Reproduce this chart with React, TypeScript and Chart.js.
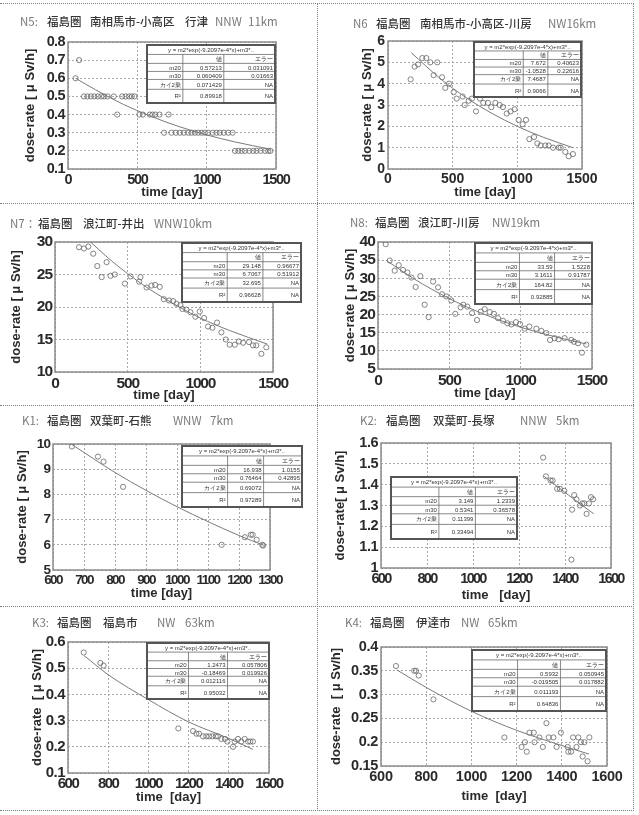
import React, { useEffect, useRef } from 'react';
import { Chart, registerables } from 'chart.js';
Chart.register(...registerables);

// ---------------- DATA ----------------
// N5
const n5Days = [55, 80, 115, 140, 165, 190, 215, 240, 260, 285, 330, 355, 390, 415, 440, 460, 480, 515, 540, 590, 610, 630, 660, 693, 725, 746, 778, 807, 836, 867, 891, 915, 939, 963, 987, 1011, 1043, 1071, 1095, 1124, 1156, 1187, 1204, 1228, 1252, 1276, 1307, 1336, 1360, 1389, 1421, 1445, 1460];
const n5Dose = [0.6, 0.7, 0.5, 0.5, 0.5, 0.5, 0.5, 0.5, 0.5, 0.5, 0.5, 0.4, 0.5, 0.5, 0.5, 0.5, 0.5, 0.4, 0.4, 0.4, 0.4, 0.4, 0.4, 0.3, 0.4, 0.3, 0.3, 0.3, 0.3, 0.3, 0.3, 0.3, 0.3, 0.3, 0.3, 0.3, 0.3, 0.3, 0.3, 0.3, 0.3, 0.3, 0.2, 0.2, 0.2, 0.2, 0.2, 0.2, 0.2, 0.2, 0.2, 0.2, 0.2];
const n5FitDays = [55, 200, 400, 600, 800, 1000, 1200, 1460];
const n5FitDose = [0.60, 0.536, 0.456, 0.39, 0.334, 0.288, 0.25, 0.209];
const n5XTicks = [0, 500, 1000, 1500];
const n5YTicks = [0.1, 0.2, 0.3, 0.4, 0.5, 0.6, 0.7, 0.8];
const n5Vals = ['0.57213', '0.060409', '0.071429', '0.89918'];
const n5Errs = ['0.031091', '0.01663', 'NA', 'NA'];

// N6
const n6Days = [175, 206, 232, 265, 296, 327, 353, 381, 418, 443, 472, 508, 531, 577, 593, 624, 649, 680, 711, 737, 773, 799, 830, 863, 889, 918, 948, 979, 1010, 1041, 1067, 1093, 1129, 1155, 1180, 1216, 1242, 1276, 1320, 1335, 1371, 1397, 1430];
const n6Dose = [4.2, 4.8, 4.9, 5.2, 5.2, 5.0, 4.4, 5.0, 4.3, 3.8, 4.0, 3.6, 3.3, 3.4, 3.0, 3.2, 3.3, 2.7, 3.3, 3.1, 3.1, 2.9, 3.1, 3.0, 2.9, 2.6, 2.7, 2.8, 2.3, 2.1, 2.3, 1.4, 1.5, 1.2, 1.1, 1.1, 1.1, 1.0, 1.0, 1.0, 0.8, 0.6, 0.7];
const n6FitDays = [180, 400, 600, 800, 1000, 1200, 1430];
const n6FitDose = [5.45, 4.26, 3.36, 2.62, 2.0, 1.49, 1.0];
const n6XTicks = [0, 500, 1000, 1500];
const n6YTicks = [0, 1, 2, 3, 4, 5, 6];
const n6Vals = ['7.672', '-1.0528', '7.4687', '0.9066'];
const n6Errs = ['0.40623', '0.22616', 'NA', 'NA'];

// N7
const n7Days = [165, 199, 229, 263, 291, 321, 355, 382, 412, 481, 520, 579, 588, 630, 664, 689, 721, 749, 785, 813, 836, 863, 877, 904, 932, 966, 996, 1026, 1053, 1083, 1115, 1145, 1175, 1202, 1237, 1266, 1294, 1335, 1363, 1385, 1420, 1454];
const n7Dose = [29.2, 29.0, 29.3, 28.2, 26.3, 24.6, 26.9, 24.8, 25.0, 23.6, 24.7, 23.9, 24.6, 23.0, 23.3, 23.4, 23.1, 21.2, 21.0, 20.9, 20.5, 20.3, 19.7, 19.6, 19.2, 18.5, 19.3, 18.3, 17.0, 16.8, 17.6, 16.1, 15.0, 14.2, 14.2, 14.7, 14.5, 14.6, 14.1, 14.1, 12.8, 13.8];
const n7FitDays = [200, 400, 600, 800, 1000, 1200, 1460];
const n7FitDose = [30.9, 26.9, 23.5, 20.7, 18.3, 16.4, 14.3];
const n7XTicks = [0, 500, 1000, 1500];
const n7YTicks = [10, 15, 20, 25, 30];
const n7Vals = ['29.148', '6.7067', '32.695', '0.96628'];
const n7Errs = ['0.96677', '0.51912', 'NA', 'NA'];

// N8
const n8Days = [54, 82, 117, 145, 175, 206, 234, 264, 297, 327, 355, 386, 421, 449, 479, 514, 542, 579, 598, 626, 659, 694, 720, 748, 783, 813, 841, 876, 907, 935, 967, 995, 1028, 1061, 1110, 1145, 1180, 1206, 1238, 1266, 1308, 1355, 1374, 1402, 1430, 1460];
const n8Dose = [39.4, 34.9, 32.1, 33.6, 32.3, 31.6, 30.2, 27.6, 30.6, 22.7, 19.3, 29.1, 27.5, 25.6, 25.0, 23.9, 20.2, 22.0, 22.7, 22.2, 20.4, 18.5, 20.8, 21.5, 20.7, 20.2, 19.0, 18.3, 17.6, 17.3, 17.9, 17.4, 16.1, 16.7, 16.1, 15.5, 14.9, 13.0, 13.5, 13.2, 13.5, 13.0, 12.5, 12.1, 9.5, 11.7];
const n8FitDays = [60, 250, 500, 750, 1000, 1250, 1460];
const n8FitDose = [34.9, 29.9, 24.4, 20.0, 16.5, 13.8, 11.9];
const n8XTicks = [0, 500, 1000, 1500];
const n8YTicks = [5, 10, 15, 20, 25, 30, 35, 40];
const n8Vals = ['33.59', '3.1611', '164.82', '0.92885'];
const n8Errs = ['1.5228', '0.91787', 'NA', 'NA'];

// K1
const k1Days = [661, 745, 763, 826, 1144, 1219, 1238, 1244, 1257, 1275, 1278];
const k1Dose = [9.9, 9.5, 9.3, 8.3, 6.0, 6.3, 6.4, 6.4, 6.2, 6.0, 5.97];
const k1FitDays = [661, 800, 900, 1000, 1100, 1200, 1280];
const k1FitDose = [9.98, 8.87, 8.16, 7.51, 6.92, 6.37, 5.98];
const k1XTicks = [600, 700, 800, 900, 1000, 1100, 1200, 1300];
const k1YTicks = [5, 6, 7, 8, 9, 10];
const k1Vals = ['16.938', '0.76464', '0.69072', '0.97289'];
const k1Errs = ['1.0155', '0.42895', 'NA', 'NA'];

// K2
const k2Days = [1305, 1317, 1337, 1346, 1366, 1378, 1397, 1428, 1431, 1440, 1450, 1465, 1475, 1484, 1494, 1504, 1513, 1522];
const k2Dose = [1.53, 1.44, 1.42, 1.42, 1.38, 1.38, 1.37, 1.04, 1.28, 1.35, 1.33, 1.30, 1.31, 1.31, 1.26, 1.31, 1.34, 1.33];
const k2FitDays = [1310, 1415, 1525];
const k2FitDose = [1.44, 1.35, 1.26];
const k2XTicks = [600, 800, 1000, 1200, 1400, 1600];
const k2YTicks = [1, 1.1, 1.2, 1.3, 1.4, 1.5, 1.6];
const k2Vals = ['3.149', '0.5341', '0.11399', '0.33494'];
const k2Errs = ['1.2339', '0.36578', 'NA', 'NA'];

// K3
const k3Days = [678, 761, 777, 1149, 1222, 1239, 1252, 1272, 1288, 1302, 1318, 1335, 1346, 1363, 1381, 1393, 1421, 1429, 1446, 1462, 1479, 1496, 1507, 1520];
const k3Dose = [0.56, 0.52, 0.51, 0.27, 0.26, 0.25, 0.25, 0.24, 0.24, 0.24, 0.24, 0.24, 0.24, 0.23, 0.23, 0.22, 0.20, 0.22, 0.23, 0.22, 0.23, 0.22, 0.22, 0.22];
const k3FitDays = [680, 800, 1000, 1200, 1400, 1520];
const k3FitDose = [0.548, 0.475, 0.38, 0.295, 0.232, 0.19];
const k3XTicks = [600, 800, 1000, 1200, 1400, 1600];
const k3YTicks = [0.1, 0.2, 0.3, 0.4, 0.5, 0.6];
const k3Vals = ['1.2473', '-0.18469', '0.012116', '0.95032'];
const k3Errs = ['0.057806', '0.019926', 'NA', 'NA'];

// K4
const k4Days = [666, 747, 755, 767, 832, 1146, 1222, 1237, 1245, 1257, 1276, 1279, 1301, 1316, 1332, 1342, 1363, 1377, 1396, 1426, 1429, 1441, 1450, 1465, 1473, 1485, 1492, 1500, 1514, 1522];
const k4Dose = [0.36, 0.35, 0.35, 0.34, 0.29, 0.21, 0.19, 0.20, 0.18, 0.22, 0.22, 0.20, 0.21, 0.19, 0.24, 0.21, 0.21, 0.19, 0.22, 0.19, 0.18, 0.18, 0.21, 0.19, 0.21, 0.20, 0.17, 0.20, 0.16, 0.21];
const k4FitDays = [670, 800, 1000, 1200, 1400, 1520];
const k4FitDose = [0.352, 0.315, 0.265, 0.225, 0.193, 0.175];
const k4XTicks = [600, 800, 1000, 1200, 1400, 1600];
const k4YTicks = [0.15, 0.2, 0.25, 0.3, 0.35, 0.4];
const k4Vals = ['0.5932', '-0.019505', '0.011193', '0.64836'];
const k4Errs = ['0.050945', '0.017882', 'NA', 'NA'];

const rowLabels = ['m20', 'm30', 'カイ2乗', 'R²'];
const formulaText = 'y = m2*exp(-9.2097e-4*x)+m3*..';

// ---------------- LAYOUT ----------------
const REG = '"Liberation Sans", Arial, sans-serif';

type Piece = [string, number, string];
type Panel = {
  box: [number, number, number, number];
  plot: [number, number, number, number];
  days: number[]; dose: number[]; fitDays: number[]; fitDose: number[];
  xTicks: number[]; yTicks: number[];
  xTitle: string; yTitle: string; yTitleX: number; xTitleY: number;
  tickSize: number; xSpacing: number; ySpacing: number;
  title: Piece[]; titleY: number;
  table: [number, number, number, number]; cols: [number, number, number];
  vals: string[]; errs: string[];
};

const CODE = '#7a7a7a';
const MAIN = '#363636';

const panels: Panel[] = [
  {
    box: [0, 4, 316, 199], plot: [68, 42, 276, 169],
    days: n5Days, dose: n5Dose, fitDays: n5FitDays, fitDose: n5FitDose, xTicks: n5XTicks, yTicks: n5YTicks,
    xTitle: 'time [day]', yTitle: 'dose-rate [ μ Sv/h]', yTitleX: 30, xTitleY: 192,
    tickSize: 14.5, xSpacing: -1.3, ySpacing: -0.6,
    title: [['N5:', 20, CODE], ['福島圏', 47, MAIN], ['南相馬市-小高区', 90, MAIN], ['行津', 185, MAIN], ['NNW', 215, CODE], ['11km', 248, CODE]], titleY: 21,
    table: [147, 45, 275, 103], cols: [0.28, 0.32, 0.40], vals: n5Vals, errs: n5Errs,
  },
  {
    box: [318, 4, 315, 199], plot: [388, 41, 582, 169],
    days: n6Days, dose: n6Dose, fitDays: n6FitDays, fitDose: n6FitDose, xTicks: n6XTicks, yTicks: n6YTicks,
    xTitle: 'time [day]', yTitle: 'dose-rate [ μ Sv/h]', yTitleX: 367, xTitleY: 192,
    tickSize: 14, xSpacing: 0, ySpacing: 0,
    title: [['N6', 353, CODE], ['福島圏', 376, MAIN], ['南相馬市-小高区-川房', 420, MAIN], ['NW16km', 548, CODE]], titleY: 23,
    table: [474, 42, 581, 97], cols: [0.46, 0.23, 0.31], vals: n6Vals, errs: n6Errs,
  },
  {
    box: [0, 204, 316, 201], plot: [55, 242, 273, 372],
    days: n7Days, dose: n7Dose, fitDays: n7FitDays, fitDose: n7FitDose, xTicks: n7XTicks, yTicks: n7YTicks,
    xTitle: 'time [day]', yTitle: 'dose-rate [ μ Sv/h]', yTitleX: 16, xTitleY: 395,
    tickSize: 15.5, xSpacing: -1.2, ySpacing: -1.0,
    title: [['N7：', 10, CODE], ['福島圏', 38, MAIN], ['浪江町-井出', 83, MAIN], ['WNW10km', 154, CODE]], titleY: 223,
    table: [182, 243, 301, 302], cols: [0.38, 0.30, 0.32], vals: n7Vals, errs: n7Errs,
  },
  {
    box: [318, 204, 315, 201], plot: [378, 242, 592, 369],
    days: n8Days, dose: n8Dose, fitDays: n8FitDays, fitDose: n8FitDose, xTicks: n8XTicks, yTicks: n8YTicks,
    xTitle: 'time [day]', yTitle: 'dose-rate [ μ Sv/h]', yTitleX: 350, xTitleY: 393,
    tickSize: 15.5, xSpacing: -1.0, ySpacing: -0.9,
    title: [['N8:', 350, CODE], ['福島圏', 375, MAIN], ['浪江町-川房', 418, MAIN], ['NW19km', 492, CODE]], titleY: 222,
    table: [475, 243, 592, 304], cols: [0.38, 0.30, 0.32], vals: n8Vals, errs: n8Errs,
  },
  {
    box: [0, 406, 316, 200], plot: [53, 444, 270, 570],
    days: k1Days, dose: k1Dose, fitDays: k1FitDays, fitDose: k1FitDose, xTicks: k1XTicks, yTicks: k1YTicks,
    xTitle: 'time [day]', yTitle: 'dose-rate [ μ Sv/h]', yTitleX: 22, xTitleY: 593,
    tickSize: 13.5, xSpacing: -1.6, ySpacing: -0.9,
    title: [['K1:', 22, CODE], ['福島圏', 47, MAIN], ['双葉町-石熊', 90, MAIN], ['WNW', 173, CODE], ['7km', 210, CODE]], titleY: 420,
    table: [182, 446, 302, 507], cols: [0.38, 0.30, 0.32], vals: k1Vals, errs: k1Errs,
  },
  {
    box: [318, 406, 315, 200], plot: [381, 443, 611, 568],
    days: k2Days, dose: k2Dose, fitDays: k2FitDays, fitDose: k2FitDose, xTicks: k2XTicks, yTicks: k2YTicks,
    xTitle: 'time   [day]', yTitle: 'dose-rate[ μ Sv/h]', yTitleX: 340, xTitleY: 595,
    tickSize: 14.5, xSpacing: -1.7, ySpacing: -0.5,
    title: [['K2:', 360, CODE], ['福島圏', 386, MAIN], ['双葉町-長塚', 433, MAIN], ['NNW', 520, CODE], ['5km', 556, CODE]], titleY: 420,
    table: [391, 477, 517, 539], cols: [0.38, 0.29, 0.33], vals: k2Vals, errs: k2Errs,
  },
  {
    box: [0, 607, 316, 203], plot: [68, 642, 269, 773],
    days: k3Days, dose: k3Dose, fitDays: k3FitDays, fitDose: k3FitDose, xTicks: k3XTicks, yTicks: k3YTicks,
    xTitle: 'time  [day]', yTitle: 'dose-rate  [ μ Sv/h]', yTitleX: 37, xTitleY: 797,
    tickSize: 15, xSpacing: -1.5, ySpacing: -0.5,
    title: [['K3:', 32, CODE], ['福島圏', 57, MAIN], ['福島市', 103, MAIN], ['NW', 157, CODE], ['63km', 185, CODE]], titleY: 622,
    table: [147, 643, 269, 699], cols: [0.34, 0.32, 0.34], vals: k3Vals, errs: k3Errs,
  },
  {
    box: [318, 607, 315, 203], plot: [381, 647, 607, 766],
    days: k4Days, dose: k4Dose, fitDays: k4FitDays, fitDose: k4FitDose, xTicks: k4XTicks, yTicks: k4YTicks,
    xTitle: 'time  [day]', yTitle: 'dose-rate  [ μ Sv/h]', yTitleX: 336, xTitleY: 796,
    tickSize: 14.5, xSpacing: -0.3, ySpacing: -0.3,
    title: [['K4:', 345, CODE], ['福島圏', 370, MAIN], ['伊達市', 416, MAIN], ['NW', 461, CODE], ['65km', 488, CODE]], titleY: 622,
    table: [472, 650, 606, 711], cols: [0.34, 0.32, 0.34], vals: k4Vals, errs: k4Errs,
  },
];

const TITLE_SIZE = 13;

const framePlugin = {
  id: 'frame',
  beforeDatasetsDraw(chart: any) {
    const { ctx, chartArea: a } = chart;
    ctx.save();
    ctx.strokeStyle = '#8c8c8c';
    ctx.lineWidth = 1.5;
    ctx.strokeRect(a.left, a.top, a.right - a.left, a.bottom - a.top);
    ctx.restore();
  },
};

function tablePlugin(p: Panel) {
  return {
    id: 'fitTable',
    afterDraw(chart: any) {
      const ctx = chart.ctx as CanvasRenderingContext2D;
      const L = p.table[0] - p.box[0];
      const T = p.table[1] - p.box[1];
      const R = p.table[2] - p.box[0];
      const B = p.table[3] - p.box[1];
      const W = R - L;
      const H = B - T;
      const fr = [1, 0.95, 0.85, 0.85, 1.05, 1.45];
      const tot = fr.reduce((s, v) => s + v, 0);
      const ys = [T];
      fr.forEach((f) => ys.push(ys[ys.length - 1] + (f / tot) * H));
      const xs = [L, L + W * p.cols[0], L + W * (p.cols[0] + p.cols[1]), R];
      ctx.save();
      ctx.fillStyle = '#ffffff';
      ctx.fillRect(L, T, W, H);
      ctx.strokeStyle = '#6a6a6a';
      ctx.lineWidth = 0.8;
      ctx.beginPath();
      for (let i = 1; i < ys.length - 1; i++) {
        ctx.moveTo(L, ys[i]);
        ctx.lineTo(R, ys[i]);
      }
      for (let j = 1; j < 3; j++) {
        ctx.moveTo(xs[j], ys[1]);
        ctx.lineTo(xs[j], B);
      }
      ctx.stroke();
      ctx.strokeStyle = '#555';
      ctx.lineWidth = 2;
      ctx.strokeRect(L, T, W, H);
      ctx.fillStyle = '#333';
      ctx.font = `6px ${REG}`;
      ctx.textBaseline = 'middle';
      ctx.textAlign = 'center';
      ctx.fillText(formulaText, (L + R) / 2, (ys[0] + ys[1]) / 2 + 0.5);
      ctx.textAlign = 'right';
      const cy = (i: number) => (ys[i] + ys[i + 1]) / 2 + 0.5;
      ctx.fillText('値', xs[2] - 2, cy(1));
      ctx.fillText('エラー', xs[3] - 2, cy(1));
      for (let r = 0; r < 4; r++) {
        ctx.fillText(rowLabels[r], xs[1] - 2, cy(r + 2));
        ctx.fillText(p.vals[r], xs[2] - 2, cy(r + 2));
        ctx.fillText(p.errs[r], xs[3] - 2, cy(r + 2));
      }
      ctx.restore();
    },
  };
}

// tighten tick-label letter spacing (the reference's labels are condensed)
function condenseLabels(s: any, spacing: number) {
  if (s.$condensed) return;
  s.$condensed = true;
  const orig = s.drawLabels;
  s.drawLabels = function (ca: any) {
    const ctx = this.ctx as any;
    const prev = ctx.letterSpacing;
    ctx.letterSpacing = `${spacing}px`;
    orig.call(this, ca);
    ctx.letterSpacing = prev || '0px';
  };
}

function makeChart(canvas: HTMLCanvasElement, p: Panel) {
  const [bx, by, bw, bh] = p.box;
  const [pl, pt, pr, pb] = p.plot;
  const padTop = pt - by;
  const padRight = bx + bw - pr;
  const yWidth = pl - bx;
  const xHeight = by + bh - pb;
  const lh = TITLE_SIZE * 1.2;
  const yTitlePad = p.yTitleX - bx - lh / 2;
  const xTitlePad = by + bh - p.xTitleY - lh / 2;
  const tickFont = { family: REG, size: p.tickSize, weight: 'bold' as const };
  const titleFont = { family: REG, size: TITLE_SIZE, weight: 'bold' as const };
  const points = p.days.map((d, i) => ({ x: d, y: p.dose[i] }));
  const fit = p.fitDays.map((d, i) => ({ x: d, y: p.fitDose[i] }));
  const gridCommon = { color: '#a8a8a8', lineWidth: 1, drawTicks: false };
  const borderCommon = { display: false, dash: [2, 2] };
  return new Chart(canvas, {
    type: 'scatter',
    data: {
      datasets: [
        {
          type: 'line',
          data: fit,
          borderColor: '#7a7a7a',
          borderWidth: 1,
          pointRadius: 0,
          fill: false,
          cubicInterpolationMode: 'monotone',
          tension: 0.4,
        } as any,
        {
          data: points,
          pointRadius: 2.6,
          pointBorderWidth: 0.8,
          borderColor: '#666',
          backgroundColor: 'rgba(255,255,255,0)',
          pointStyle: 'circle',
          showLine: false,
        },
      ],
    },
    options: {
      animation: false,
      responsive: false,
      devicePixelRatio: 1,
      layout: { padding: { top: padTop, right: padRight, left: 0, bottom: 0 } },
      plugins: { legend: { display: false }, tooltip: { enabled: false }, title: { display: false } },
      scales: {
        x: {
          type: 'linear',
          min: p.xTicks[0],
          max: p.xTicks[p.xTicks.length - 1],
          afterBuildTicks: (s: any) => { s.ticks = p.xTicks.map((v) => ({ value: v })); },
          afterFit: (s: any) => { s.height = xHeight; condenseLabels(s, p.xSpacing); },
          ticks: { font: tickFont, color: '#2a2a2a', padding: 2, maxRotation: 0, autoSkip: false, callback: (v: any) => String(v) },
          grid: gridCommon,
          border: borderCommon,
          title: { display: true, text: p.xTitle, font: titleFont, color: '#2a2a2a', padding: { top: 0, bottom: xTitlePad } },
        },
        y: {
          type: 'linear',
          min: p.yTicks[0],
          max: p.yTicks[p.yTicks.length - 1],
          afterBuildTicks: (s: any) => { s.ticks = p.yTicks.map((v) => ({ value: v })); },
          afterFit: (s: any) => { s.width = yWidth; condenseLabels(s, p.ySpacing); },
          ticks: { font: tickFont, color: '#2a2a2a', padding: 3, autoSkip: false, callback: (v: any) => String(v) },
          grid: gridCommon,
          border: borderCommon,
          title: { display: true, text: p.yTitle, font: titleFont, color: '#2a2a2a', padding: { top: yTitlePad, bottom: 0 } },
        },
      },
    } as any,
    plugins: [framePlugin, tablePlugin(p)],
  });
}

function ChartPanel({ p }: { p: Panel }) {
  const ref = useRef<HTMLCanvasElement>(null);
  useEffect(() => {
    const c = makeChart(ref.current as HTMLCanvasElement, p);
    return () => c.destroy();
  }, [p]);
  const [x, y, w, h] = p.box;
  return (
    <>
      <canvas ref={ref} width={w} height={h} style={{ position: 'absolute', left: x, top: y, width: w, height: h }} />
      {p.title.map(([t, tx, col], i) => (
        <span
          key={i}
          style={{
            position: 'absolute', left: tx, top: p.titleY - 8, lineHeight: '16px', height: 16,
            fontFamily: '"Noto Sans CJK JP", sans-serif', fontSize: 11.5, color: col, whiteSpace: 'pre',
            fontWeight: col === MAIN ? 500 : 400,
          }}
        >
          {t}
        </span>
      ))}
    </>
  );
}

const hLines = [3, 203, 405, 606, 810];
const vLines = [317, 633];

export default function App() {
  return (
    <div style={{ position: 'absolute', left: 0, top: 0, width: 639, height: 815, background: '#fff', overflow: 'hidden' }}>
      {hLines.map((y, i) => (
        <div key={'h' + i} style={{ position: 'absolute', left: 0, top: y, width: 634, height: 0, borderTop: '1px dotted #7d7d7d' }} />
      ))}
      {vLines.map((x, i) => (
        <div key={'v' + i} style={{ position: 'absolute', left: x, top: 3, width: 0, height: 808, borderLeft: '1px dotted #7d7d7d' }} />
      ))}
      {panels.map((p, i) => (
        <ChartPanel key={i} p={p} />
      ))}
    </div>
  );
}
